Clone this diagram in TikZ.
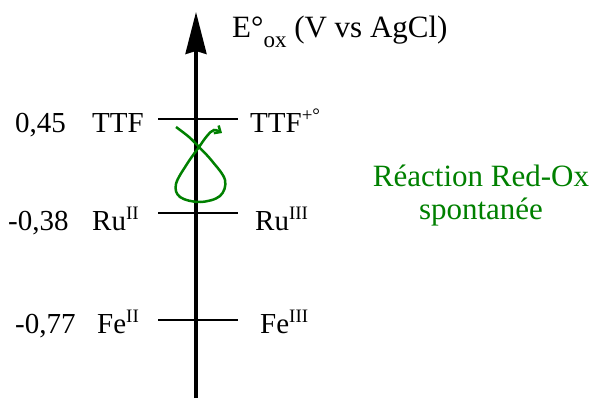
\documentclass[tikz,border=0pt]{standalone}
\usepackage{fontspec}
\setmainfont{Liberation Serif}
\usetikzlibrary{arrows.meta}
\definecolor{redox}{HTML}{008000}
\newcommand{\hexp}[1]{\raisebox{11pt}{\fontsize{19}{19}\selectfont #1}}
\newcommand{\hind}[1]{\raisebox{-10pt}{\fontsize{23}{23}\selectfont #1}}
\tikzset{axe/.style={-{Stealth[length=42pt,width=21pt,inset=3pt]},line width=3.2pt},lvl/.style={line width=2.8pt},lab/.style={anchor=base west,inner sep=0pt,font=\fontsize{29}{33}\selectfont},big/.style={lab,font=\fontsize{31}{33}\selectfont},grn/.style={big,anchor=base,text=redox},loop/.style={-{Straight Barb[length=5pt,width=9pt]},line width=2.5pt,draw=redox}}
\begin{document}
\begin{tikzpicture}[x=1pt,y=-1pt]
\useasboundingbox (0,0) rectangle (595,401);
\coordinate (bot) at (196,398);
\coordinate (top) at (196,12);
\draw[axe] (bot)--(top);
\node[big] (titre) at (232,38) {E°\hind{ox} (V vs AgCl)};
% niveaux
\coordinate (ttfL) at (158,119); \coordinate (ttfR) at (238,119);
\coordinate (ruL) at (158,213); \coordinate (ruR) at (238,213);
\coordinate (feL) at (158,320); \coordinate (feR) at (238,320);
\draw[lvl] (ttfL)--(ttfR);
\draw[lvl] (ruL)--(ruR);
\draw[lvl] (feL)--(feR);
\node[lab] (e1) at (15,133) {0,45};
\node[lab] (red1) at (92,133) {TTF};
\node[lab] (ox1) at (250,133) {TTF\hexp{+°}};
\node[lab] (e2) at (8,230) {-0,38};
\node[lab] (red2) at (92,230) {Ru\hexp{II}};
\node[lab] (ox2) at (255,230) {Ru\hexp{III}};
\node[lab] (e3) at (15,333) {-0,77};
\node[lab] (red3) at (97,333) {Fe\hexp{II}};
\node[lab] (ox3) at (260,333) {Fe\hexp{III}};
\node[grn] (rx1) at (481,187) {Réaction Red-Ox};
\node[grn] (rx2) at (481,220) {spontanée};
\draw[loop] plot[smooth,tension=0.6] coordinates {(176,127) (189,137) (199,147) (212,161) (225,180) (220,196) (200,202) (180,197) (176,184) (187,164) (199,147) (207,136) (214,130) (222,133)};
\end{tikzpicture}
\end{document}
